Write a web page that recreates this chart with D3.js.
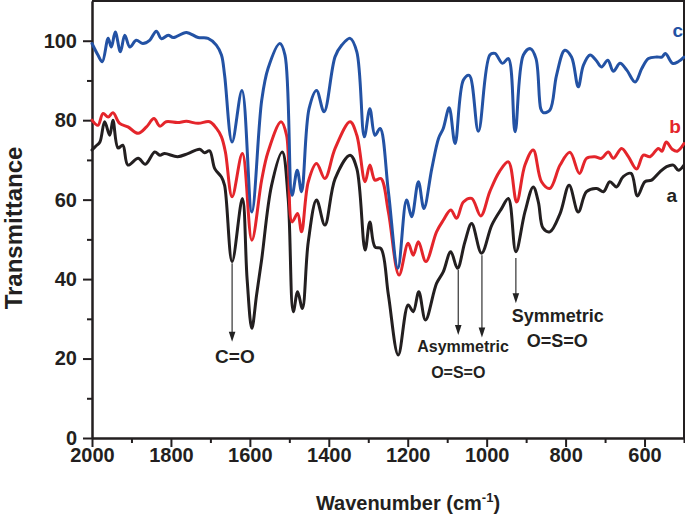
<!DOCTYPE html>
<html>
<head>
<meta charset="utf-8">
<script src="https://cdn.jsdelivr.net/npm/d3@7"></script>
<style>
  html, body { margin: 0; padding: 0; background: #fff; }
  svg { display: block; font-family: "Liberation Sans", Arial, Helvetica, sans-serif; }
</style>
</head>
<body>
<svg id="chart" width="685" height="518"></svg>
<script>
// ---------------- DATA ----------------
const waveA = [2000,1990,1980,1968,1955,1947,1934,1922,1909,1883,1865,1841,1828,1816,1783,1757,1727,1715,1702,1689,1672,1664,1645,1619,1607,1595,1583,1570,1545,1518,1503,1490,1479,1467,1452,1431,1410,1384,1346,1329,1308,1296,1283,1268,1249,1224,1199,1186,1172,1155,1127,1110,1091,1074,1055,1038,1013,987,962,945,926,903,882,869,857,840,814,791,768,747,721,704,688,671,654,634,618,599,582,561,544,527,514,500];
const transA = [72.5,73.5,74.5,79.6,76.2,80,73,73.7,68.7,70.4,68.9,72,71.2,71.6,70.8,71.6,72.7,71.8,72.3,67.8,65.7,63.6,44.4,60.3,40,27.6,36,45,63.6,72,60.3,31.8,36.8,32.6,49.4,59.9,53.6,65.3,71.2,67.8,47.3,54.4,48.1,47.7,36,20.9,33.5,31.8,36.8,29.7,38.9,41.8,46.9,42.7,49.4,54,46.5,53.6,57.8,60.3,46.9,56.9,63.2,59.4,52.8,51.9,56.5,63.6,56.9,62,62.8,62,64.5,63.2,65.8,66.6,60.9,64.5,64.9,67,68.3,68.7,67.4,68.7];

const waveB = [2000,1985,1972,1959,1947,1930,1909,1883,1862,1843,1828,1812,1783,1761,1731,1702,1685,1672,1662,1645,1619,1595,1570,1554,1521,1507,1493,1479,1469,1452,1431,1410,1384,1346,1329,1308,1296,1283,1268,1249,1222,1199,1186,1173,1154,1127,1110,1091,1076,1059,1038,1015,992,968,945,924,903,882,861,840,814,789,765,747,726,709,692,679,658,641,620,603,586,565,556,545,530,517,500];
const transB = [80,78.7,81.7,80.8,81.9,79.2,78.3,76.7,78.3,80.4,78.5,79.6,79.4,79.7,79.2,79.6,78,75.8,72,60.7,71.6,49.8,65,72,79.6,76.2,54.4,56.5,51.9,64.5,69.1,65.3,72.9,79.6,76.2,64.5,68.7,64.9,65.3,56.9,41,49,46,49.4,44.4,51.9,54.8,57.4,55.3,59.4,60.3,55.9,62,67,69.5,59.4,68.7,72.5,64.5,62.8,68.7,71.9,66.6,70.4,70.8,70.4,72,70.4,72.9,70.8,67.7,71.2,70.8,72.9,72.2,74.5,72.7,72.2,74.1];

const waveC = [2000,1985,1974,1959,1951,1941,1928,1917,1904,1888,1871,1854,1837,1824,1807,1794,1761,1731,1706,1685,1672,1664,1645,1620,1595,1570,1554,1524,1511,1493,1480,1469,1450,1431,1412,1384,1367,1346,1329,1310,1296,1283,1270,1249,1225,1203,1190,1173,1159,1139,1122,1110,1095,1080,1059,1044,1021,992,979,960,945,928,907,889,875,863,857,840,823,802,785,768,755,738,723,709,693,679,662,645,624,607,590,569,556,547,529,515,500];
const transC = [99.3,96.4,94.7,100.6,98.4,102.2,97.2,101.4,98.4,100.1,99.3,100.1,102.4,100.5,101.4,100.8,102.1,100.8,100.6,98.9,96.4,91.3,74.5,87.5,56.9,85,93,99.3,96.4,61.1,67.4,62,82.9,87.5,82.1,96,98.9,100.6,97.2,75.8,82.9,76.2,77.9,62,42.7,59.9,55.7,64.5,57.8,67.8,75.4,77.9,83.1,74.1,90.1,91.3,77.2,96.4,96.8,94.3,95.5,77.1,96.4,98,95.5,82.9,81.9,82.5,91.3,97.6,95.9,88.4,93.8,96.4,95.1,93.4,95.1,92.3,94.3,92.6,89.6,93,95.5,95.9,95.9,96.8,94.3,94.7,95.9];

const seriesNames = ["a", "b", "c"];
const xMajorTicks = [2000,1800,1600,1400,1200,1000,800,600];
const xMinorTicks = [1900,1700,1500,1300,1100,900,700,500];
const yMajorTicks = [0,20,40,60,80,100];
const yMinorTicks = [10,30,50,70,90];

// annotation arrows: wavenumber, start and end transmittance
const arrowWave = [1645, 1072, 1012, 926];
const arrowFrom = [44, 42.3, 46, 45.3];
const arrowTo   = [24.2, 25.9, 25.3, 33.9];
// annotation texts
const noteText = ["C=O", "Asymmetric", "O=S=O", "Symmetric", "O=S=O"];
const noteWave = [1638, 1060, 1072, 820, 821];
const noteT    = [18.8, 21.7, 15.0, 29.3, 22.8];
const noteSize = [19, 16, 16, 18, 18];

// ---------------- LAYOUT ----------------
const W = 685, H = 518;
const mLeft = 92, mRight = 684, mTop = 1, mBottom = 438;
const colors = { a: "#231f20", b: "#e4252b", c: "#2352a4" };
const ink = "#231f20";

const svg = d3.select("#chart");
const x = d3.scaleLinear().domain([2000, 500]).range([mLeft, mRight]);
const y = d3.scaleLinear().domain([0, 110]).range([mBottom, mTop]);
const fmt = d3.format("d");

// frame (top and right)
svg.append("path")
  .attr("d", `M${mLeft},${mTop}H${mRight}V${mBottom}`)
  .attr("fill", "none").attr("stroke", ink).attr("stroke-width", 2);

// axes
const gx = svg.append("g").attr("transform", `translate(0,${mBottom})`);
gx.call(d3.axisBottom(x).tickValues(xMinorTicks).tickSize(5).tickFormat("").tickSizeOuter(0));
const gx2 = svg.append("g").attr("transform", `translate(0,${mBottom})`);
gx2.call(d3.axisBottom(x).tickValues(xMajorTicks).tickFormat(fmt).tickSize(9).tickPadding(1).tickSizeOuter(0));

const gy = svg.append("g").attr("transform", `translate(${mLeft},0)`);
gy.call(d3.axisLeft(y).tickValues(yMinorTicks).tickSize(5).tickFormat("").tickSizeOuter(0));
const gy2 = svg.append("g").attr("transform", `translate(${mLeft},0)`);
gy2.call(d3.axisLeft(y).tickValues(yMajorTicks).tickFormat(fmt).tickSize(9).tickPadding(6).tickSizeOuter(0));

svg.selectAll(".domain").attr("stroke", ink).attr("stroke-width", 2);
svg.selectAll(".tick line").attr("stroke", ink).attr("stroke-width", 2);
svg.selectAll(".tick text")
  .attr("fill", ink).attr("font-size", 20).attr("font-weight", "bold")
  .attr("font-family", "'Liberation Sans', Arial, sans-serif");

// axis titles
svg.append("text")
  .attr("transform", `translate(22,228) rotate(-90)`)
  .attr("text-anchor", "middle")
  .attr("font-size", 24).attr("font-weight", "bold").attr("fill", ink)
  .text("Transmittance");

const xt = svg.append("text")
  .attr("x", 408).attr("y", 510)
  .attr("text-anchor", "middle")
  .attr("font-size", 20).attr("font-weight", "bold").attr("fill", ink);
xt.append("tspan").text("Wavenumber (cm");
xt.append("tspan").attr("font-size", 13).attr("dy", -8).text("-1");
xt.append("tspan").attr("dy", 8).text(")");

// curves
const seriesData = {
  a: waveA.map((w, i) => [w, transA[i]]),
  b: waveB.map((w, i) => [w, transB[i]]),
  c: waveC.map((w, i) => [w, transC[i]])
};
const line = d3.line()
  .x(d => x(d[0])).y(d => y(d[1]))
  .curve(d3.curveCatmullRom.alpha(0.5));

const plot = svg.append("g");
["a", "b", "c"].forEach(k => {
  plot.append("path")
    .datum(seriesData[k])
    .attr("d", line)
    .attr("fill", "none")
    .attr("stroke", colors[k])
    .attr("stroke-width", 3)
    .attr("stroke-linejoin", "round")
    .attr("stroke-linecap", "round");
});

// series labels
const labelPos = { a: [671.7, 201.7], b: [675, 133.3], c: [677.7, 36.7] };
seriesNames.forEach(k => {
  svg.append("text")
    .attr("x", labelPos[k][0]).attr("y", labelPos[k][1])
    .attr("text-anchor", "middle")
    .attr("font-size", 19).attr("font-weight", "bold")
    .attr("fill", colors[k])
    .text(k);
});

// arrows
arrowWave.forEach((w, i) => {
  const px = x(w), y0 = y(arrowFrom[i]), y1 = y(arrowTo[i]);
  svg.append("line")
    .attr("x1", px).attr("x2", px).attr("y1", y0).attr("y2", y1 - 8)
    .attr("stroke", "#333").attr("stroke-width", 1.2);
  svg.append("path")
    .attr("d", `M${px - 3.3},${y1 - 10}L${px + 3.3},${y1 - 10}L${px},${y1}Z`)
    .attr("fill", "#222");
});

// annotation texts
noteText.forEach((t, i) => {
  svg.append("text")
    .attr("x", x(noteWave[i])).attr("y", y(noteT[i]))
    .attr("text-anchor", "middle")
    .attr("font-size", noteSize[i]).attr("font-weight", "bold")
    .attr("fill", ink)
    .text(t);
});
</script>
</body>
</html>
